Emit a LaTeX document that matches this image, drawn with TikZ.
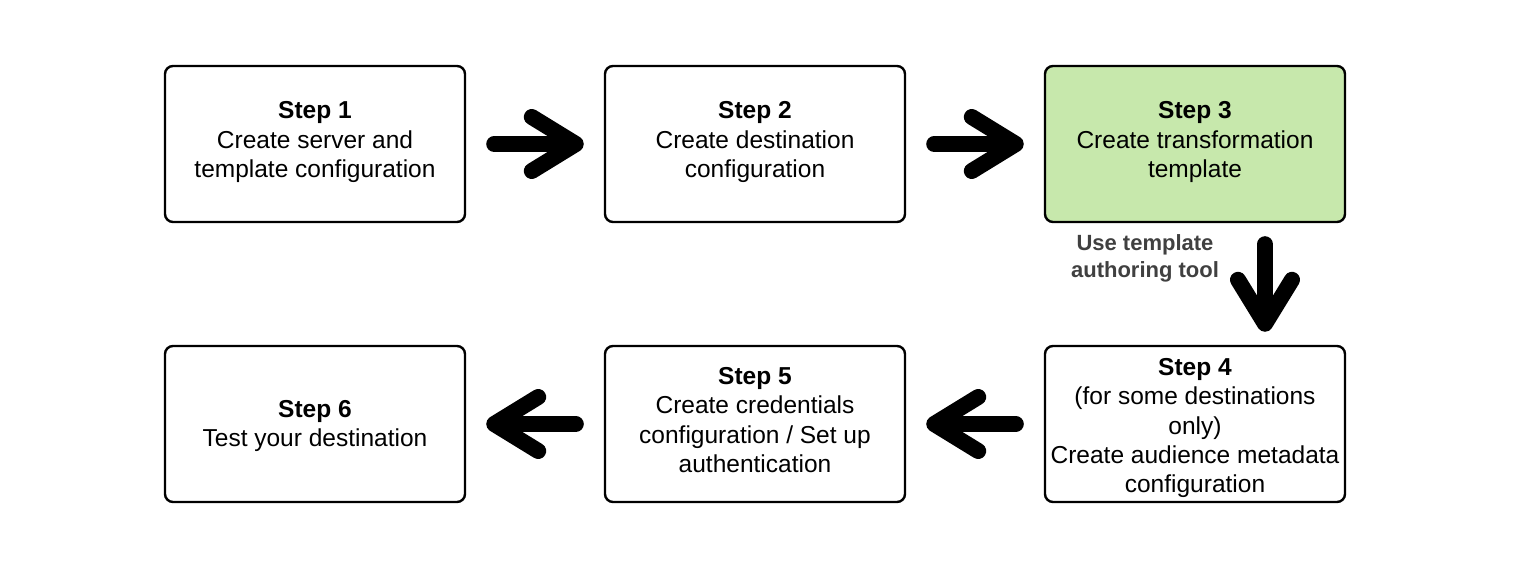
\documentclass[tikz,border=0pt]{standalone}
\usepackage{fontspec}
\setmainfont{Liberation Sans}
\usetikzlibrary{calc}
\definecolor{stepgreen}{HTML}{C7E8AC}
\definecolor{labelgray}{HTML}{404040}
\tikzset{
  stepbox/.style={draw=black, line width=2.4pt, rounded corners=8pt, fill=white,
    minimum width=300pt, minimum height=156pt, inner sep=0pt},
  steptext/.style={align=center, inner sep=0pt, font=\fontsize{24.5}{29.3}\selectfont},
  bigarr/.style={line width=16pt, line cap=round, line join=round, black},
}
\begin{document}
\begin{tikzpicture}[x=1pt,y=-1pt]
\useasboundingbox (0,0) rectangle (1519,569);
\node[stepbox] (s1) at (315,144) {};
\node[stepbox] (s2) at (755,144) {};
\node[stepbox, fill=stepgreen] (s3) at (1195,144) {};
\node[stepbox] (s4) at (1195,424) {};
\node[stepbox] (s5) at (755,424) {};
\node[stepbox] (s6) at (315,424) {};
\node[steptext] (t1) at ($(s1.center)+(0,-2)$) {\textbf{Step 1}\\Create server and\\template configuration};
\node[steptext] (t2) at ($(s2.center)+(0,-2)$) {\textbf{Step 2}\\Create destination\\configuration};
\node[steptext] (t3) at ($(s3.center)+(0,-2)$) {\textbf{Step 3}\\Create transformation\\template};
\node[steptext] (t4) at ($(s4.center)+(0,4)$) {\textbf{Step 4}\\(for some destinations\\only)\\Create audience metadata\\configuration};
\node[steptext] (t5) at ($(s5.center)+(0,-4)$) {\textbf{Step 5}\\Create credentials\\configuration / Set up\\authentication};
\node[steptext] (t6) at ($(s6.center)+(0,2)$) {\textbf{Step 6}\\Test your destination};
% right arrows
\draw[bigarr] ($(s1.east)+(28,0)$) -- ($(s2.west)+(-30,0)$);
\draw[bigarr] ($(s2.west)+(-72,-27)$) -- ($(s2.west)+(-28,0)$) -- ($(s2.west)+(-72,27)$);
\draw[bigarr] ($(s2.east)+(28,0)$) -- ($(s3.west)+(-30,0)$);
\draw[bigarr] ($(s3.west)+(-72,-27)$) -- ($(s3.west)+(-28,0)$) -- ($(s3.west)+(-72,27)$);
% down arrow
\draw[bigarr] ($(s3.south)+(70,21)$) -- ($(s4.north)+(70,-23)$);
\draw[bigarr] ($(s4.north)+(43,-65)$) -- ($(s4.north)+(70,-21)$) -- ($(s4.north)+(97,-65)$);
\node[font=\bfseries\fontsize{22}{27}\selectfont, text=labelgray, align=center, inner sep=0pt] (lbl) at (1145,258) {Use template\\authoring tool};
% left arrows
\draw[bigarr] ($(s4.west)+(-28,0)$) -- ($(s5.east)+(30,0)$);
\draw[bigarr] ($(s5.east)+(72,-27)$) -- ($(s5.east)+(28,0)$) -- ($(s5.east)+(72,27)$);
\draw[bigarr] ($(s5.west)+(-28,0)$) -- ($(s6.east)+(30,0)$);
\draw[bigarr] ($(s6.east)+(72,-27)$) -- ($(s6.east)+(28,0)$) -- ($(s6.east)+(72,27)$);
\end{tikzpicture}
\end{document}
